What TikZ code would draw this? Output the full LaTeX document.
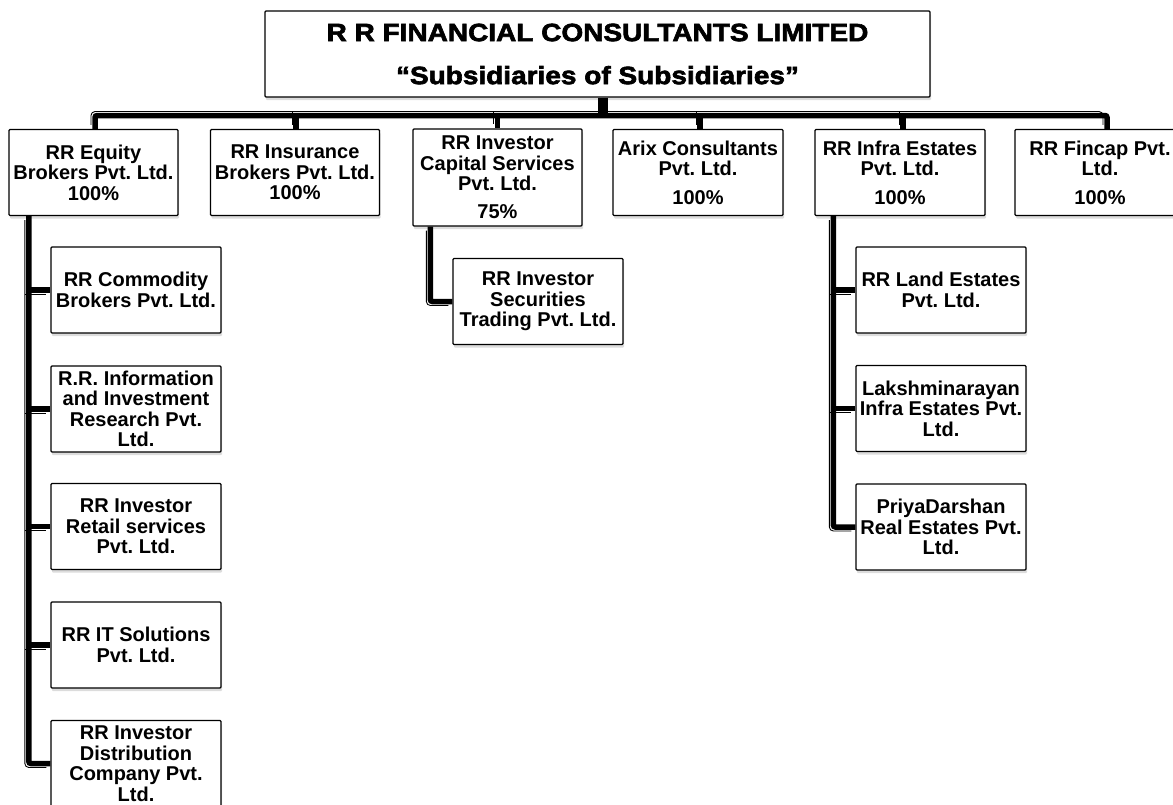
\documentclass[tikz,border=0pt]{standalone}
\usepackage{fontspec}
\setmainfont{Liberation Sans}
\newfontfamily\titlefont{Liberation Sans}[BoldFeatures={FakeStretch=1.12,FakeBold=2.5}]
\usetikzlibrary{calc,shadows}
\frenchspacing
\tikzset{
  orgbox/.style={draw=black, line width=1.3pt, fill=white, rounded corners=1pt,
    minimum width=170pt, minimum height=86pt, inner sep=0pt, align=center,
    font=\bfseries\fontsize{20}{20.5}\selectfont,
    drop shadow={shadow xshift=1pt, shadow yshift=-3pt, opacity=0.28}},
  titlebox/.style={orgbox, minimum width=665pt, minimum height=86pt,
    font=\titlefont\bfseries\fontsize{25}{43}\selectfont},
  thickconn/.style={line width=5.5pt, rounded corners=2pt},
  thinconn/.style={line width=0.9pt, rounded corners=4pt},
  stemconn/.style={line width=10pt}
}
\newcommand\orgline[2]{\draw[thickconn] #2; \draw[thinconn, transform canvas={shift={#1}}] #2;}
\begin{document}
\frenchspacing
\begin{tikzpicture}[x=1pt, y=-1pt]
\useasboundingbox (0,0) rectangle (1173,804);
% top
\node[titlebox] (top) at (597.5,54) {\frenchspacing R R FINANCIAL CONSULTANTS LIMITED\\“Subsidiaries of Subsidiaries”};
% first row
\node[orgbox, minimum width=169pt] (b1) at (93.5,172.5) {RR Equity\\Brokers Pvt. Ltd.\\100\%};
\node[orgbox, minimum width=169pt] (b2) at (295,172.5) {RR Insurance\\Brokers Pvt. Ltd.\\100\%};
\node[orgbox, minimum width=169pt, minimum height=97pt] (b3) at (497.5,177.5) {RR Investor\\Capital Services\\Pvt. Ltd.\\[7.5pt]75\%};
\node[orgbox] (b4) at (698,172.5) {Arix Consultants\\Pvt. Ltd.\\[8pt]100\%};
\node[orgbox] (b5) at (900,172.5) {RR Infra Estates\\Pvt. Ltd.\\[8pt]100\%};
\node[orgbox] (b6) at (1100,172.5) {RR Fincap Pvt.\\Ltd.\\[8pt]100\%};
% children of b1
\node[orgbox] (c1) at (136,290) {RR Commodity\\Brokers Pvt. Ltd.};
\node[orgbox] (c2) at (136,409) {R.R. Information\\and Investment\\Research Pvt.\\Ltd.};
\node[orgbox] (c3) at (136,526.5) {RR Investor\\Retail services\\Pvt. Ltd.};
\node[orgbox] (c4) at (136,645) {RR IT Solutions\\Pvt. Ltd.};
\node[orgbox] (c5) at (136,763.5) {RR Investor\\Distribution\\Company Pvt.\\Ltd.};
% child of b3
\node[orgbox] (s1) at (538,301.5) {RR Investor\\Securities\\Trading Pvt. Ltd.};
% children of b5
\node[orgbox] (r1) at (941,290) {RR Land Estates\\Pvt. Ltd.};
\node[orgbox] (r2) at (941,408.5) {Lakshminarayan\\Infra Estates Pvt.\\Ltd.};
\node[orgbox] (r3) at (941,527) {PriyaDarshan\\Real Estates Pvt.\\Ltd.};
% connector anchors
\coordinate (bus) at (0,115.5);
\coordinate (d1) at ($(b1.north)+(1.5,0)$);
\coordinate (d2) at ($(b2.north)+(1,0)$);
\coordinate (d3) at ($(b3.north)+(0,0)$);
\coordinate (d4) at ($(b4.north)+(2,0)$);
\coordinate (d5) at ($(b5.north)+(3,0)$);
\coordinate (d6) at ($(b6.north)+(7,0)$);
\coordinate (st) at ($(top.south)+(5,0)$);
\coordinate (v1) at ($(b1.south west)+(20.5,0)$);
\coordinate (v3) at ($(b3.south west)+(18,0)$);
\coordinate (v5) at ($(b5.south west)+(19,0)$);
% top bus
\draw[stemconn] (st) -- (st |- bus);
\orgline{(-4pt,4pt)}{(d1) -- (d1 |- bus) -- (d6 |- bus) -- (d6)}
\orgline{(-4pt,4pt)}{(d2 |- bus) -- (d2)}
\orgline{(-4pt,4pt)}{(d3 |- bus) -- (d3)}
\orgline{(-4pt,4pt)}{(d4 |- bus) -- (d4)}
\orgline{(-4pt,4pt)}{(d5 |- bus) -- (d5)}
% b1 children
\orgline{(-4pt,-4pt)}{(v1) |- (c5.west)}
\orgline{(-4pt,-4pt)}{(v1 |- c1.west) -- (c1.west)}
\orgline{(-4pt,-4pt)}{(v1 |- c2.west) -- (c2.west)}
\orgline{(-4pt,-4pt)}{(v1 |- c3.west) -- (c3.west)}
\orgline{(-4pt,-4pt)}{(v1 |- c4.west) -- (c4.west)}
% b3 child
\orgline{(-4pt,-4pt)}{(v3) |- (s1.west)}
% b5 children
\orgline{(-4pt,-4pt)}{(v5) |- (r3.west)}
\orgline{(-4pt,-4pt)}{(v5 |- r1.west) -- (r1.west)}
\orgline{(-4pt,-4pt)}{(v5 |- r2.west) -- (r2.west)}
\end{tikzpicture}
\end{document}
